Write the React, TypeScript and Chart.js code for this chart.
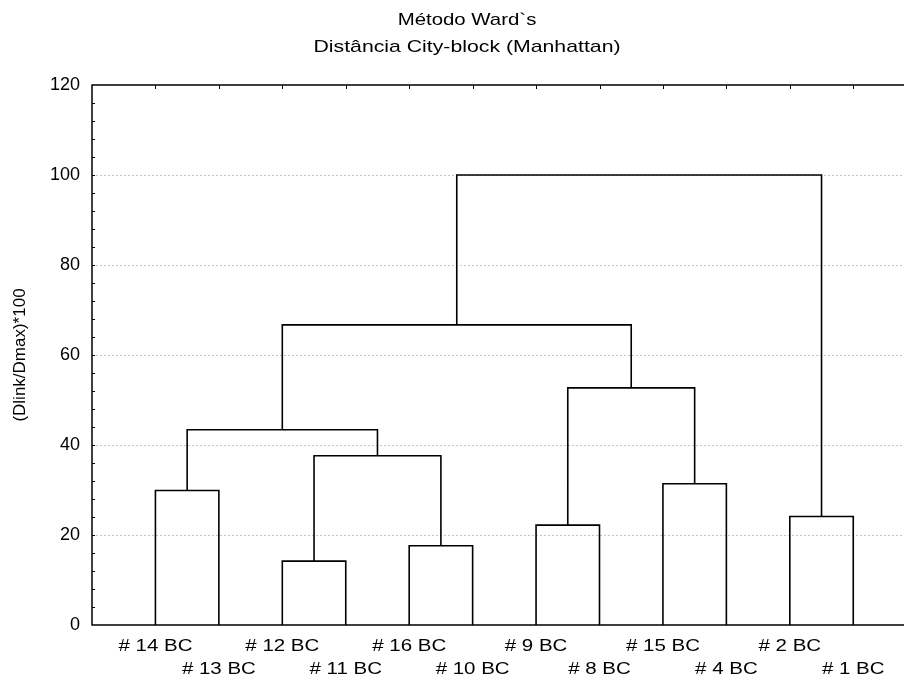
import React, { useEffect, useRef } from "react";
import { Chart, registerables } from "chart.js";

Chart.register(...registerables);

// Leaf order along the x axis (left to right)
const leafLabels = [
  "# 14 BC", "# 13 BC", "# 12 BC", "# 11 BC", "# 16 BC", "# 10 BC",
  "# 9 BC", "# 8 BC", "# 15 BC", "# 4 BC", "# 2 BC", "# 1 BC",
];

// Linkage: indices < 12 are leaves, index 12 + k is the cluster made by merge k
const mergeLeft = [2, 4, 6, 10, 0, 8, 12, 16, 14, 19, 21];
const mergeRight = [3, 5, 7, 11, 1, 9, 13, 18, 17, 20, 15];
const mergeHeight = [14.2, 17.6, 22.2, 24.1, 29.9, 31.4, 37.6, 43.4, 52.7, 66.7, 100];

const yTicks = [0, 20, 40, 60, 80, 100, 120];

const titleLines = ["Método Ward`s", "Distância City-block (Manhattan)"];
const yAxisTitle = "(Dlink/Dmax)*100";

const FONT = "'Liberation Sans', Arial, sans-serif";

function buildSegments() {
  const nodeX: number[] = leafLabels.map((_, i) => i + 1);
  const nodeY: number[] = leafLabels.map(() => 0);
  const segs: { x: number; y: number }[][] = [];
  mergeHeight.forEach((h, k) => {
    const a = mergeLeft[k];
    const b = mergeRight[k];
    const xa = nodeX[a];
    const xb = nodeX[b];
    segs.push([
      { x: xa, y: nodeY[a] },
      { x: xa, y: h },
      { x: xb, y: h },
      { x: xb, y: nodeY[b] },
    ]);
    nodeX.push((xa + xb) / 2);
    nodeY.push(h);
  });
  return segs;
}

// Text drawn with a horizontal stretch (wide lettering)
function wideText(ctx: CanvasRenderingContext2D, text: string, cx: number, cy: number, size: number, sx: number) {
  ctx.save();
  ctx.font = `${size}px ${FONT}`;
  ctx.textAlign = "center";
  ctx.textBaseline = "middle";
  ctx.fillStyle = "#000";
  ctx.translate(cx, cy);
  ctx.scale(sx, 1);
  ctx.fillText(text, 0, 0);
  ctx.restore();
}

const framePlugin = {
  id: "frame",
  afterDatasetsDraw(chart: any) {
    const { ctx, chartArea } = chart;
    const { left, right, top, bottom } = chartArea;
    const yScale = chart.scales.y;
    const xScale = chart.scales.x;
    ctx.save();
    ctx.strokeStyle = "#000";
    ctx.lineWidth = 1.5;
    ctx.beginPath();
    ctx.moveTo(right + 2, top);
    ctx.lineTo(left, top);
    ctx.lineTo(left, bottom);
    ctx.lineTo(right + 2, bottom);
    ctx.stroke();
    // minor ticks on the left axis, pointing inward
    ctx.lineWidth = 1;
    ctx.beginPath();
    for (let v = 4; v < 120; v += 4) {
      const py = Math.round(yScale.getPixelForValue(v)) + 0.5;
      ctx.moveTo(left, py);
      ctx.lineTo(left + 3, py);
    }
    ctx.stroke();
    // ticks on the top edge at each leaf
    ctx.beginPath();
    leafLabels.forEach((_, i) => {
      const px = Math.round(xScale.getPixelForValue(i + 1)) + 0.5;
      ctx.moveTo(px, top);
      ctx.lineTo(px, top + 4);
    });
    ctx.stroke();
    ctx.restore();
  },
  afterDraw(chart: any) {
    const { ctx, chartArea } = chart;
    const xScale = chart.scales.x;
    wideText(ctx, titleLines[0], 467, 20, 17, 1.2);
    wideText(ctx, titleLines[1], 467, 47, 17, 1.25);
    // leaf labels in two staggered rows under the axis
    leafLabels.forEach((lab, i) => {
      const px = xScale.getPixelForValue(i + 1);
      const py = chartArea.bottom + (i % 2 === 0 ? 22 : 45);
      wideText(ctx, lab, px, py, 16, 1.28);
    });
  },
};

export default function App() {
  const canvasRef = useRef<HTMLCanvasElement | null>(null);

  useEffect(() => {
    const canvas = canvasRef.current;
    if (!canvas) return;
    const segs = buildSegments();
    const chart = new Chart(canvas, {
      type: "line",
      data: {
        datasets: segs.map((pts) => ({
          data: pts,
          borderColor: "#000",
          borderWidth: 1.6,
          pointRadius: 0,
          fill: false,
          tension: 0,
          borderJoinStyle: "miter" as const,
        })),
      },
      options: {
        responsive: false,
        animation: false,
        events: [],
        layout: { padding: { top: 85, right: 0, bottom: 0, left: 0 } },
        plugins: {
          legend: { display: false },
          tooltip: { enabled: false },
          title: { display: false },
        },
        scales: {
          x: {
            type: "linear",
            min: 0,
            max: 12.8,
            afterFit: (s: any) => {
              s.height = 57;
            },
            afterBuildTicks: (s: any) => {
              s.ticks = leafLabels.map((_, i) => ({ value: i + 1 }));
            },
            grid: { display: false, drawTicks: false },
            border: { display: false },
            ticks: { display: false },
          },
          y: {
            min: 0,
            max: 120,
            afterFit: (s: any) => {
              s.width = 92;
            },
            afterBuildTicks: (s: any) => {
              s.ticks = yTicks.map((v) => ({ value: v }));
            },
            grid: {
              drawTicks: false,
              lineWidth: 1,
              color: (c: any) =>
                c.tick && (c.tick.value === 0 || c.tick.value === 120)
                  ? "rgba(0,0,0,0)"
                  : "#c4c4c4",
            },
            border: { display: false, dash: [2, 2] },
            ticks: {
              padding: 12,
              color: "#000",
              font: { family: FONT, size: 18 },
            },
            title: {
              display: true,
              text: yAxisTitle,
              color: "#000",
              font: { family: FONT, size: 17 },
              padding: { top: 10, bottom: 0 },
            },
          },
        },
      },
      plugins: [framePlugin],
    });
    return () => chart.destroy();
  }, []);

  return (
    <div style={{ position: "fixed", left: 0, top: 0, width: 904, height: 682, background: "#fff" }}>
      <canvas ref={canvasRef} width={904} height={682} />
    </div>
  );
}
